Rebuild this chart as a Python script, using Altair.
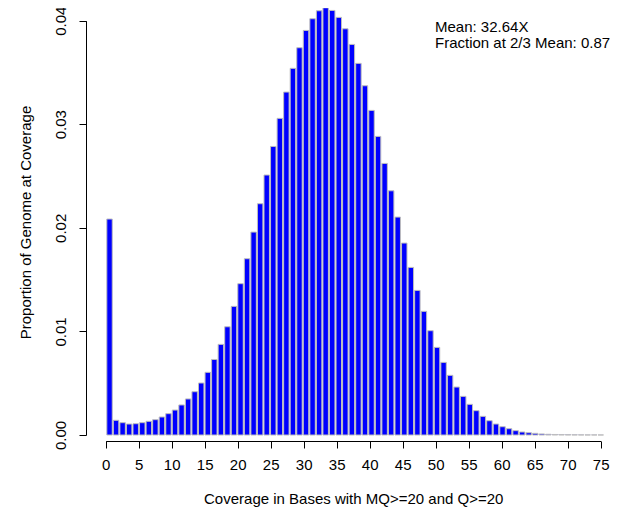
import altair as alt
import pandas as pd

# Coverage values 0..75 and proportion of genome at each coverage
coverage = list(range(0, 76))
proportion = [
    0.02085, 0.00142, 0.00119, 0.00106, 0.00109, 0.00119, 0.00132, 0.00148,
    0.00174, 0.00206, 0.00241, 0.00290, 0.00348, 0.00418, 0.00502, 0.00605,
    0.00729, 0.00875, 0.01045, 0.01242, 0.01461, 0.01702, 0.01959, 0.02233,
    0.02510, 0.02786, 0.03057, 0.03311, 0.03540, 0.03739, 0.03906, 0.04019,
    0.04096, 0.04125, 0.04099, 0.04032, 0.03922, 0.03771, 0.03588, 0.03372,
    0.03134, 0.02883, 0.02622, 0.02358, 0.02104, 0.01853, 0.01618, 0.01396,
    0.01194, 0.01007, 0.00846, 0.00701, 0.00576, 0.00463, 0.00373, 0.00296,
    0.00235, 0.00180, 0.00138, 0.00106, 0.00080, 0.00061, 0.00042, 0.00029,
    0.00022, 0.00016, 0.00010, 0.00007, 0.00005, 0.00004, 0.00003, 0.00002,
    0.000015, 0.00001, 0.00001, 0.000005,
]
x_ticks = list(range(0, 80, 5))
y_ticks = [0.0, 0.01, 0.02, 0.03, 0.04]
annotation = ["Mean: 32.64X", "Fraction at 2/3 Mean: 0.87"]
x_title = "Coverage in Bases with MQ>=20 and Q>=20"
y_title = "Proportion of Genome at Coverage"

df = pd.DataFrame({"coverage": coverage, "proportion": proportion})

FONT = "Liberation Sans"
FS = 15
W, H = 525, 426

xscale = alt.Scale(domain=[0, 75], range=[19.7, 514.7], nice=False, zero=False)
yscale = alt.Scale(domain=[0, 0.04], range=[420, 5.7], nice=False, zero=False)

bars = (
    alt.Chart(df)
    .transform_calculate(
        left="datum.coverage * 6.55 / 6.6 + 1/6",
        right="(datum.coverage + 1) * 6.55 / 6.6",
    )
    .mark_bar(color="#0000FF", stroke="#BEBEBE", strokeWidth=1, opacity=1)
    .encode(
        x=alt.X(
            "left:Q",
            scale=xscale,
            axis=alt.Axis(
                values=x_ticks,
                title=x_title,
                grid=False,
                domainColor="black",
                tickColor="black",
                tickSize=7,
                labelPadding=9,
                labelFontSize=FS,
                labelFont=FONT,
                labelColor="black",
                labelFlush=False,
                labelOverlap=False,
                titleFont=FONT,
                titleFontSize=FS,
                titleFontWeight="normal",
                titleColor="black",
                titleY=62,
                titleBaseline="alphabetic",
            ),
        ),
        x2="right:Q",
        y=alt.Y(
            "proportion:Q",
            scale=yscale,
            axis=alt.Axis(
                values=y_ticks,
                format=".2f",
                title=y_title,
                grid=False,
                domainColor="black",
                tickColor="black",
                tickSize=7,
                labelPadding=14,
                labelAngle=270,
                labelAlign="center",
                labelBaseline="alphabetic",
                labelFontSize=FS,
                labelFont=FONT,
                labelColor="black",
                labelFlush=False,
                labelOverlap=False,
                titleFont=FONT,
                titleFontSize=FS,
                titleFontWeight="normal",
                titleColor="black",
                titleAngle=270,
                titleAlign="center",
                titleBaseline="alphabetic",
                titleX=-56,
                titleY=207,
            ),
        ),
        y2=alt.datum(0),
    )
)

text = (
    alt.Chart(pd.DataFrame({"t": [0]}))
    .mark_text(
        align="left",
        baseline="alphabetic",
        font=FONT,
        fontSize=FS,
        lineHeight=16,
        color="black",
    )
    .encode(x=alt.value(349), y=alt.value(16.5), text=alt.value(annotation))
)

chart = (
    alt.layer(bars, text)
    .properties(
        width=W,
        height=H,
        padding={"left": 78, "top": 7, "right": 6, "bottom": 67},
        autosize=alt.AutoSizeParams(type="none"),
        background="white",
    )
    .configure_view(stroke=None)
)

chart.save("out.html", embed_options={"renderer": "svg", "actions": False})
